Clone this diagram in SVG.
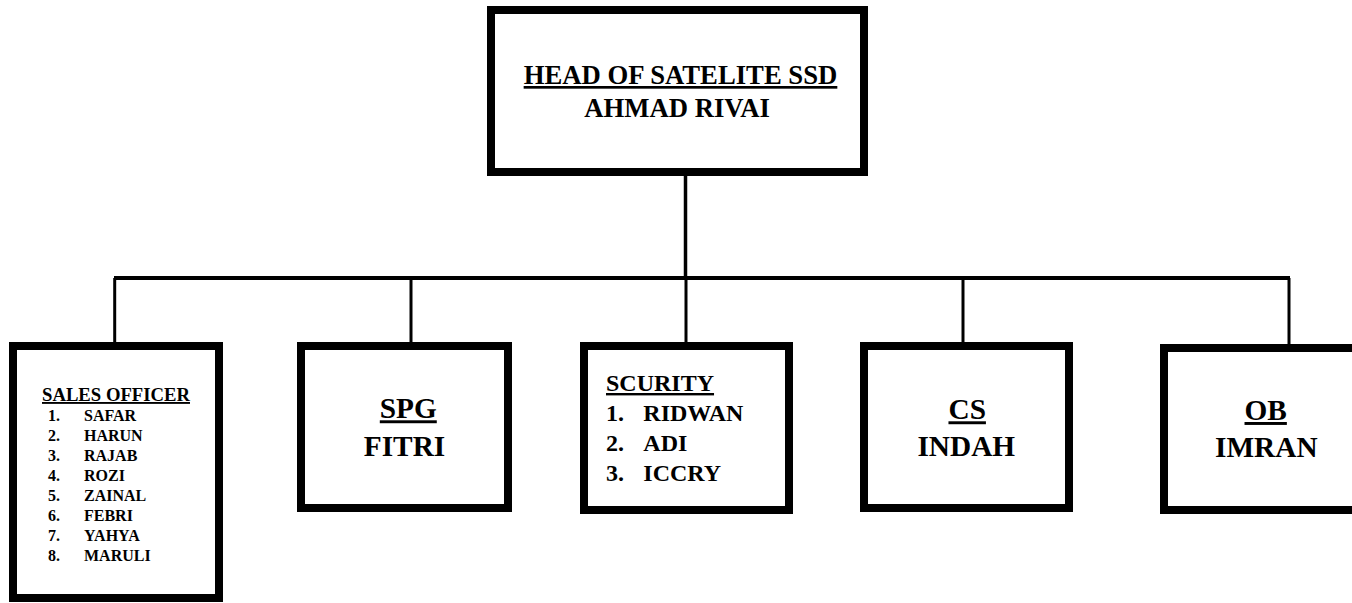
<svg xmlns="http://www.w3.org/2000/svg" width="1352" height="603" viewBox="0 0 1352 603">
<style>
.box{fill:#fff;stroke:#000;stroke-width:8}
.t{font-family:"Liberation Serif","Times New Roman",serif;font-weight:bold;fill:#000}
.u{text-decoration:underline}
.c{text-anchor:middle}
.ln{stroke:#000;fill:none}
</style>
<rect width="1352" height="603" fill="#fff"/>
<g id="connectors">
<line class="ln" x1="685.5" y1="176" x2="685.5" y2="278" stroke-width="3.5"/>
<line class="ln" x1="114" y1="278" x2="1290" y2="278" stroke-width="4"/>
<line class="ln" x1="114.7" y1="278" x2="114.7" y2="343" stroke-width="3"/>
<line class="ln" x1="411" y1="278" x2="411" y2="343" stroke-width="3"/>
<line class="ln" x1="686" y1="278" x2="686" y2="343" stroke-width="3"/>
<line class="ln" x1="963" y1="278" x2="963" y2="343" stroke-width="3"/>
<line class="ln" x1="1289" y1="278" x2="1289" y2="345" stroke-width="3"/>
</g>
<g id="head">
<rect class="box" x="491" y="10" width="373" height="162"/>
<text class="t c u" x="680.5" y="84" font-size="26.7">HEAD OF SATELITE SSD</text>
<text class="t c" x="677" y="117" font-size="26.7">AHMAD RIVAI</text>
</g>
<g id="sales">
<rect class="box" x="13" y="346" width="206" height="252"/>
<text class="t c u" x="116" y="401" font-size="18.7">SALES OFFICER</text>
<g class="t" font-size="16">
<text x="48" y="420.7">1.</text><text x="84" y="420.7">SAFAR</text>
<text x="48" y="440.7">2.</text><text x="84" y="440.7">HARUN</text>
<text x="48" y="460.7">3.</text><text x="84" y="460.7">RAJAB</text>
<text x="48" y="480.7">4.</text><text x="84" y="480.7">ROZI</text>
<text x="48" y="500.7">5.</text><text x="84" y="500.7">ZAINAL</text>
<text x="48" y="520.7">6.</text><text x="84" y="520.7">FEBRI</text>
<text x="48" y="540.7">7.</text><text x="84" y="540.7">YAHYA</text>
<text x="48" y="560.7">8.</text><text x="84" y="560.7">MARULI</text>
</g>
</g>
<g id="spg">
<rect class="box" x="301" y="346" width="207" height="162"/>
<text class="t c u" x="408.3" y="418.3" font-size="29.3">SPG</text>
<text class="t c" x="404.5" y="455.7" font-size="29.3">FITRI</text>
</g>
<g id="security">
<rect class="box" x="584" y="346" width="205" height="164"/>
<text class="t u" x="606" y="391" font-size="24">SCURITY</text>
<g class="t" font-size="24">
<text x="606" y="421">1.</text><text x="643.3" y="421">RIDWAN</text>
<text x="606" y="450.7">2.</text><text x="643.3" y="450.7">ADI</text>
<text x="606" y="480.7">3.</text><text x="643.3" y="480.7">ICCRY</text>
</g>
</g>
<g id="cs">
<rect class="box" x="864" y="346" width="205" height="162"/>
<text class="t c u" x="967.2" y="419.3" font-size="29.3">CS</text>
<text class="t c" x="966.3" y="456" font-size="29.3">INDAH</text>
</g>
<g id="ob">
<rect class="box" x="1164" y="348" width="210" height="162"/>
<text class="t c u" x="1265.7" y="420" font-size="29.3">OB</text>
<text class="t c" x="1266.3" y="456.7" font-size="29.3">IMRAN</text>
</g>
</svg>
